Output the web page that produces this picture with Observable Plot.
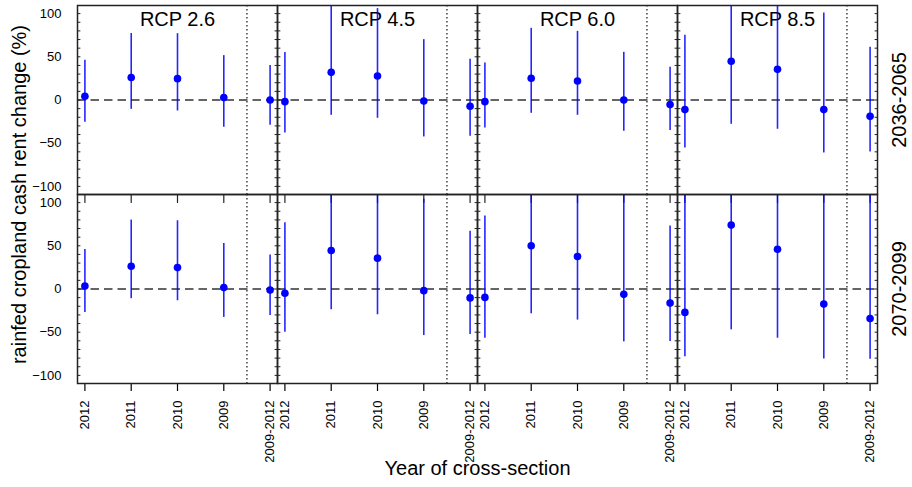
<!DOCTYPE html>
<html><head><meta charset="utf-8">
<script src="https://cdn.jsdelivr.net/npm/d3@7"></script>
<script src="https://cdn.jsdelivr.net/npm/@observablehq/plot@0.6"></script>
<style>
body{margin:0;background:#fff;}
</style>
</head><body><div id="chart"></div>
<script>
// Categories
const rcps = ["RCP 2.6", "RCP 4.5", "RCP 6.0", "RCP 8.5"];
const periods = ["2036-2065", "2070-2099"];
const years = ["2012", "2011", "2010", "2009", "2009-2012"];
const yTickValues = [-100, -50, 0, 50, 100];
const yTitle = "rainfed cropland cash rent change (%)";
const xTitle = "Year of cross-section";

// 2036-2065 : one row per RCP, one value per year of cross-section
const mean2036 = [
  [4.3, 26.0, 24.7, 2.8, 0.0],
  [-1.9, 32.0, 27.8, -1.2, -7.3],
  [-1.9, 25.1, 22.0, 0.0, -5.3],
  [-11.1, 44.8, 35.5, -11.1, -18.9]
];
const lo2036 = [
  [-25.8, -10.8, -12.7, -31.6, -29.3],
  [-38.2, -17.7, -21.2, -42.8, -42.0],
  [-32.4, -15.4, -17.7, -36.2, -35.4],
  [-55.6, -28.1, -33.9, -61.3, -60.2]
];
const hi2036 = [
  [46.0, 77.0, 76.8, 51.4, 39.8],
  [54.9, 118.0, 105.8, 69.9, 47.1],
  [42.8, 83.0, 79.5, 55.2, 37.8],
  [74.9, 125.0, 115.0, 100.7, 61.0]
];

// 2070-2099
const mean2070 = [
  [3.5, 26.4, 24.8, 1.6, -1.2],
  [-5.0, 44.6, 35.7, -1.9, -10.3],
  [-9.7, 50.0, 37.6, -6.2, -16.3],
  [-27.1, 74.0, 46.1, -17.4, -34.1]
];
const lo2070 = [
  [-27.1, -11.2, -13.6, -32.9, -30.6],
  [-50.0, -24.0, -29.8, -53.9, -52.8],
  [-57.0, -28.7, -36.0, -61.2, -60.7],
  [-78.3, -47.3, -57.0, -81.0, -81.2]
];
const hi2070 = [
  [45.7, 79.8, 79.0, 52.7, 39.5],
  [76.7, 125.0, 118.0, 103.9, 66.8],
  [84.5, 130.0, 115.0, 112.0, 72.9],
  [125.0, 160.0, 150.0, 130.0, 115.0]
];

const means = [mean2036, mean2070];
const los = [lo2036, lo2070];
const his = [hi2036, hi2070];

const rows = [];
periods.forEach((p, pi) => rcps.forEach((r, ri) => years.forEach((y, yi) => {
  rows.push({rcp: r, period: p, pos: yi + 1, year: y,
    mean: means[pi][ri][yi], lo: los[pi][ri][yi], hi: his[pi][ri][yi]});
})));

const xTicks = years.map((_, i) => i + 1);
const sep = (xTicks[3] + xTicks[4]) / 2;
const xPad = 0.04 * (xTicks[xTicks.length - 1] - xTicks[0]);
const yMinor = d3.range(-100, 101, 10);

const tickShape = {draw(ctx, l) { ctx.moveTo(0, 0); ctx.lineTo(0, -l); }};
const ink = "#222";
const blue = "#0000ff";
const label = {textAnchor: "middle", lineAnchor: "middle", fontSize: 20, fill: "black"};

const chart = Plot.plot({
  width: 912, height: 487,
  marginLeft: 76, marginRight: 34, marginTop: 5, marginBottom: 104,
  style: {fontFamily: "'Liberation Sans', Arial, sans-serif", background: "white", color: "black"},
  fx: {domain: rcps, padding: 0, axis: null},
  fy: {domain: periods, padding: 0, axis: null},
  x: {domain: [xTicks[0] - xPad, xTicks[xTicks.length - 1] + xPad]},
  y: {domain: [-109.4, 109.4]},
  marks: [
    Plot.text(rcps, {fx: d => d, fy: () => periods[0], frameAnchor: "top", dy: 14, text: d => d, ...label}),
    Plot.text(periods, {fy: d => d, fx: () => rcps[3], frameAnchor: "right", dx: 22, rotate: -90, text: d => d, ...label}),
    Plot.text([yTitle], {fx: () => rcps[0], fy: () => periods[0], frameAnchor: "bottom-left", dx: -58, rotate: -90, text: d => d, ...label}),
    Plot.text([xTitle], {fx: () => rcps[1], fy: () => periods[1], frameAnchor: "bottom-right", dy: 85, text: d => d, ...label}),
    Plot.ruleY([0], {stroke: "#333", strokeWidth: 1.3, strokeDasharray: "8.5,5"}),
    Plot.ruleX([sep], {stroke: ink, strokeWidth: 1.3, strokeDasharray: "1.5,2.5"}),
    Plot.vector(yMinor, {y: d => d, frameAnchor: "left", rotate: 90, length: 2.5, anchor: "start", shape: tickShape, stroke: ink, strokeWidth: 1}),
    Plot.vector(yMinor, {y: d => d, frameAnchor: "right", rotate: -90, length: 2.5, anchor: "start", shape: tickShape, stroke: ink, strokeWidth: 1}),
    Plot.vector(xTicks, {x: d => d, fy: () => periods[0], frameAnchor: "bottom", rotate: 180, length: 8, anchor: "start", shape: tickShape, stroke: ink, strokeWidth: 1.2}),
    Plot.axisY({ticks: yTickValues, tickSize: 0, tickPadding: 16, fontSize: 13, label: null}),
    Plot.axisX({ticks: xTicks, tickFormat: d => years[d - 1], tickRotate: -90, tickSize: 8, tickPadding: 9, fontSize: 13, label: null, strokeWidth: 1.2}),
    Plot.ruleX(rows, {x: "pos", y1: "lo", y2: "hi", fx: "rcp", fy: "period", stroke: blue, strokeWidth: 1.6, strokeOpacity: 0.85, clip: true}),
    Plot.dot(rows, {x: "pos", y: "mean", fx: "rcp", fy: "period", r: 3.8, fill: blue}),
    Plot.frame({stroke: ink, strokeWidth: 1.5})
  ]
});
document.getElementById("chart").appendChild(chart);
</script>
</body></html>
